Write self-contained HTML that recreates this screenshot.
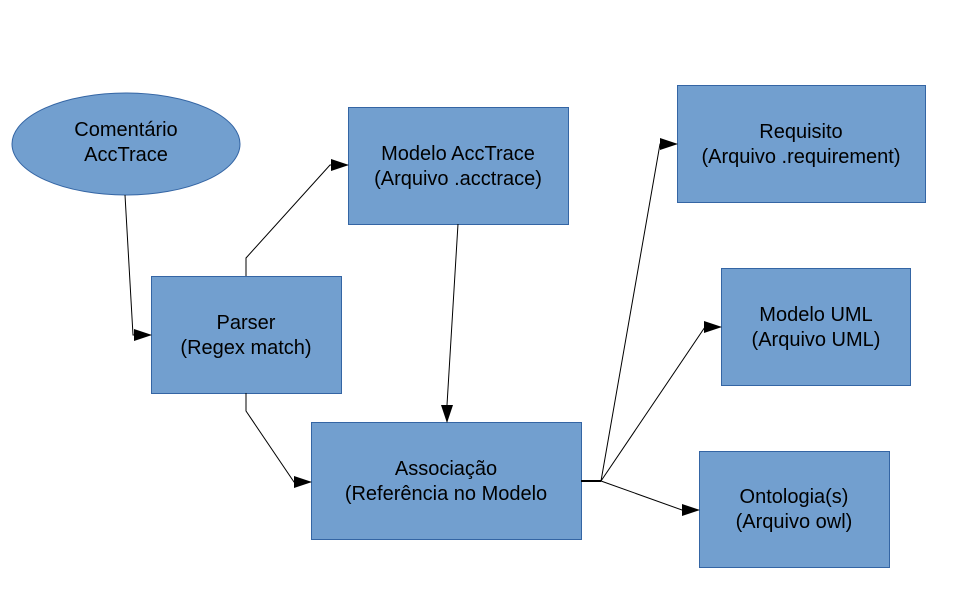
<!DOCTYPE html>
<html><head><meta charset="utf-8"><style>
html,body{margin:0;padding:0;background:#fff;width:967px;height:591px;overflow:hidden}
svg text{font-family:"Liberation Sans",sans-serif;font-size:20px;fill:#000;text-anchor:middle}
</style></head><body>
<svg width="967" height="591" viewBox="0 0 967 591">
<defs><marker id="a" markerWidth="18" markerHeight="12" refX="17" refY="6" orient="auto" markerUnits="userSpaceOnUse"><path d="M0,0 L18,6 L0,12 Z" fill="#000"/></marker></defs>
<g fill="#729fcf" stroke="#3465a4" stroke-width="1">
<ellipse cx="126" cy="144" rx="114" ry="51"/>
<rect x="151.5" y="276.5" width="190" height="117"/>
<rect x="348.5" y="107.5" width="220" height="117"/>
<rect x="311.5" y="422.5" width="270" height="117"/>
<rect x="677.5" y="85.5" width="248" height="117"/>
<rect x="721.5" y="268.5" width="189" height="117"/>
<rect x="699.5" y="451.5" width="190" height="116"/>
</g>
<g fill="none" stroke="#000" stroke-width="1">
<polyline points="125,195 133,335 151,335" marker-end="url(#a)"/>
<polyline points="246,276 246,258 330,165 348,165" marker-end="url(#a)"/>
<polyline points="246,393 246,411 294,482 311,482" marker-end="url(#a)"/>
<polyline points="458,224 447,405 447,422" marker-end="url(#a)"/>
<line x1="581" y1="481" x2="601" y2="481" stroke-width="2"/>
<polyline points="601,481 660,144 677,144" marker-end="url(#a)"/>
<polyline points="601,481 705,327 721,327" marker-end="url(#a)"/>
<polyline points="601,481 682,510 699,510" marker-end="url(#a)"/>
</g>
<text x="126" y="136">Comentário</text><text x="126" y="161">AccTrace</text>
<text x="246" y="329">Parser</text><text x="246" y="354">(Regex match)</text>
<text x="458" y="160">Modelo AccTrace</text><text x="458" y="185">(Arquivo .acctrace)</text>
<text x="446" y="475">Associação</text><text x="446" y="500">(Referência no Modelo</text>
<text x="801" y="138">Requisito</text><text x="801" y="163">(Arquivo .requirement)</text>
<text x="816" y="321">Modelo UML</text><text x="816" y="346">(Arquivo UML)</text>
<text x="794" y="503">Ontologia(s)</text><text x="794" y="528">(Arquivo owl)</text>
</svg>
</body></html>
